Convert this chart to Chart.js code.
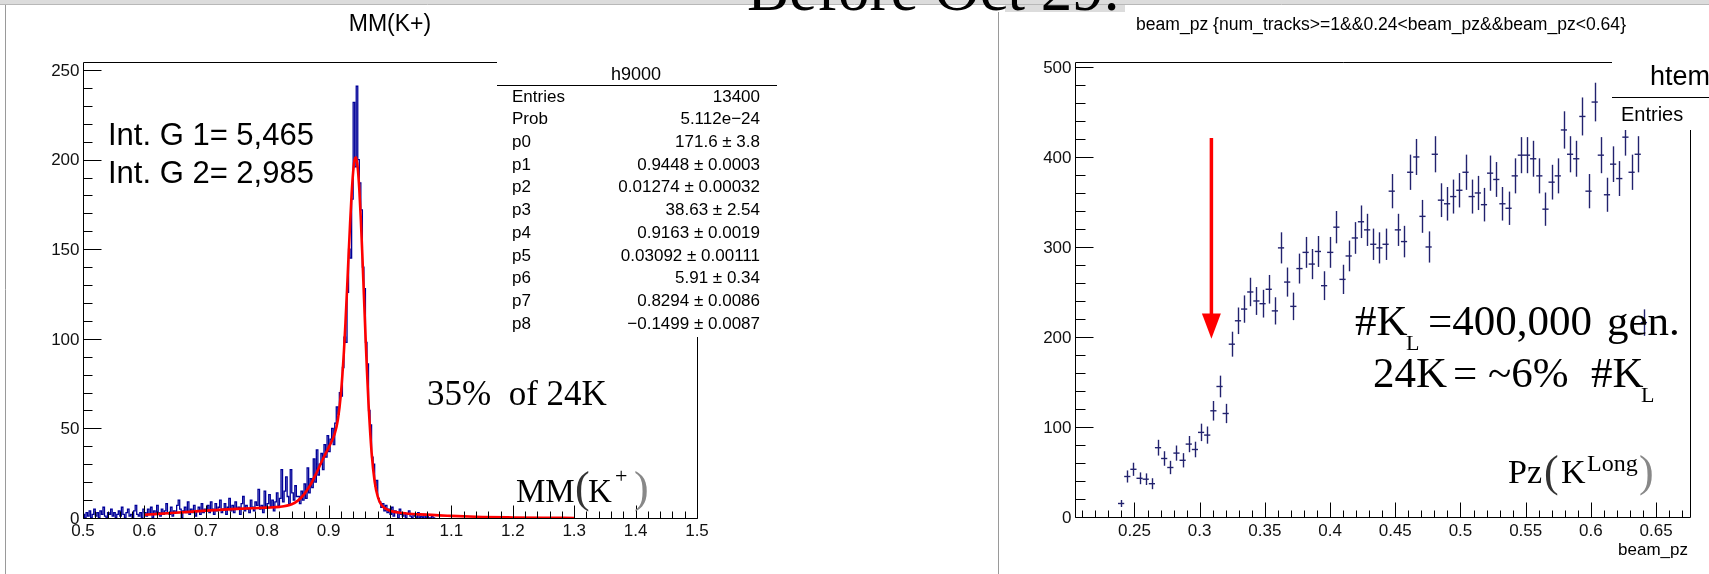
<!DOCTYPE html>
<html>
<head>
<meta charset="utf-8">
<title>MM(K+) / beam_pz</title>
<script src="https://cdn.jsdelivr.net/npm/chart.js@4.4.0/dist/chart.umd.min.js"></script>
<style>
  html, body { margin: 0; padding: 0; background: #fff; }
  #page { position: relative; width: 1709px; height: 574px; overflow: hidden; }
  #page canvas { position: absolute; left: 0; top: 0; }
</style>
</head>
<body>
<div id="page">
  <canvas id="mmChart" width="1709" height="574"></canvas>
  <canvas id="pzChart" width="1709" height="574"></canvas>
</div>
<script>
// ---- left panel: MM(K+) histogram, bins of 0.0025 from 0.5
var mmLow = 0.5;
var mmBinWidth = 0.0025;
var mmCounts = [
  2,0,3,1,4,0,2,5,1,3, 0,4,2,6,1,0,3,2,5,1, 3,0,2,4,1,6,2,0,3,5, 1,2,0,4,7,2,1,3,0,5,
  3,1,5,2,6,0,4,2,7,3, 1,5,2,4,8,3,2,6,1,4, 3,7,10,5,0,4,6,3,9,2, 5,3,7,1,4,6,2,8,3,5,
  4,7,3,9,5,2,8,4,6,10, 3,5,8,2,6,11,4,7,3,9, 5,6,2,8,12,4,7,5,3,10, 6,4,9,7,16,5,7,3,15,6,
  8,13,6,10,4,9,14,7,11,27, 9,15,23,12,8,27,14,10,18,12,
  12,8,15,10,19,11,28,14,22,17, 33,20,38,24,30,36,27,41,34,46,
  37,44,50,41,53,62,58,70,68,84, 101,98,126,150,145,178,232,196,241,200,
  187,172,140,128,98,86,60,52,34,30, 18,21,11,9,6,8,4,7,3,5,
  2,6,1,4,3,0,5,2,1,3, 0,2,4,1,0,2,1,0,3,0, 1,0,2,0,1,0,0,1,0,0
];

// red fit curve
var fitMass = [0.60,0.65,0.70,0.75,0.80,0.82,0.84,0.85,0.86,0.87,0.88,0.89,0.90,0.91,0.915,
  0.92,0.925,0.9275,0.93,0.9325,0.935,0.9375,0.94,0.9425,0.9448,0.9475,0.95,0.9525,0.955,0.9575,
  0.96,0.9625,0.965,0.97,0.975,0.98,0.985,0.99,1.00,1.02,1.05,1.10,1.15,1.20,1.25,1.30];
var fitCounts = [1.8,2.9,4.1,5.1,5.8,6.2,7.7,9.7,13.2,18.3,25.0,32.4,39.3,47.1,54.7,
  69.1,93.2,109.2,127.1,146.1,164.4,180.7,193.2,200.2,201.3,195.3,183.5,166.6,146.4,124.4,
  102.5,82.0,63.9,36.6,20.4,12.0,7.9,5.9,4.1,2.8,2.0,1.2,0.6,0.3,0.1,0.04];

var mmStatNames = ["Entries","Prob","p0","p1","p2","p3","p4","p5","p6","p7","p8"];
var mmStatValues = ["13400","5.112e\u221224","171.6 \u00b1 3.8","0.9448 \u00b1 0.0003",
  "0.01274 \u00b1 0.00032","38.63 \u00b1 2.54","0.9163 \u00b1 0.0019","0.03092 \u00b1 0.00111",
  "5.91 \u00b1 0.34","0.8294 \u00b1 0.0086","\u22120.1499 \u00b1 0.0087"];

var mmXTicks = [0.5,0.6,0.7,0.8,0.9,1.0,1.1,1.2,1.3,1.4,1.5];
var mmXLabels = ["0.5","0.6","0.7","0.8","0.9","1","1.1","1.2","1.3","1.4","1.5"];
var mmYTicks = [0,50,100,150,200,250];
var mmYLabels = ["0","50","100","150","200","250"];

// ---- right panel: beam_pz, 100 bins from 0.2044, filled bins start at bin 7
var pzLow = 0.2044;
var pzBinWidth = 0.004716;
var pzFirstBin = 7;
var pzCounts = [
  15,45,53,43,42,37,77,65,55,71, 63,81,75,94,91,118,145,115,192,218,
  231,250,240,237,253,229,299,261,234,276, 294,281,295,257,294,322,264,290,310,328,
  319,303,299,303,362,319,306,383,400,334, 300,403,352,348,356,363,383,356,360,347,
  382,375,348,343,379,402,402,398,379,342, 372,379,430,403,398,445,362,461,402,358,
  392,376,422,383,403,216
];

var pzXTicks = [0.25,0.3,0.35,0.4,0.45,0.5,0.55,0.6,0.65];
var pzXLabels = ["0.25","0.3","0.35","0.4","0.45","0.5","0.55","0.6","0.65"];
var pzYTicks = [0,100,200,300,400,500];
var pzYLabels = ["0","100","200","300","400","500"];

// red arrow on the right panel (data coordinates)
var pzArrow = { x: 0.309, top: 421, headBase: 226, tip: 198 };

var SANS = '"Liberation Sans", Arial, sans-serif';
var SERIF = '"Liberation Serif", "Times New Roman", serif';

function line(ctx, x1, y1, x2, y2) {
  ctx.beginPath();
  ctx.moveTo(x1, y1);
  ctx.lineTo(x2, y2);
  ctx.stroke();
}

function text(ctx, s, x, y, font, color, align, base, maxW) {
  ctx.font = font;
  ctx.fillStyle = color || '#000';
  ctx.textAlign = align || 'left';
  ctx.textBaseline = base || 'alphabetic';
  if (maxW) ctx.fillText(s, x, y, maxW); else ctx.fillText(s, x, y);
}

// ROOT style frame with ticks pointing inside
function drawFrame(chart, spec) {
  var ctx = chart.ctx, a = chart.chartArea;
  var xs = chart.scales.x, ys = chart.scales.y;
  var L = Math.round(a.left) + 0.5, R = Math.round(a.right) + 0.5;
  var T = Math.round(a.top) + 0.5, B = Math.round(a.bottom) + 0.5;
  ctx.save();
  ctx.strokeStyle = '#000';
  ctx.lineWidth = 1;
  line(ctx, L, T, L, B);
  line(ctx, L, B, R, B);
  line(ctx, L, T, spec.topEnd, T);
  line(ctx, R, spec.rightStart, R, B);

  var k, v, px, len;
  for (k = Math.ceil(xs.min / spec.xMinor - 1e-6); k <= Math.floor(xs.max / spec.xMinor + 1e-6); k++) {
    px = Math.round(xs.getPixelForValue(k * spec.xMinor)) + 0.5;
    len = (k % spec.xSub === 0) ? spec.xMaj : spec.xMin;
    line(ctx, px, B, px, B - len);
  }
  for (k = Math.ceil(ys.min / spec.yMinor - 1e-6); k <= Math.floor(ys.max / spec.yMinor + 1e-6); k++) {
    px = Math.round(ys.getPixelForValue(k * spec.yMinor)) + 0.5;
    len = (k % spec.ySub === 0) ? spec.yMaj : spec.yMin;
    line(ctx, L, px, L + len, px);
  }
  var f = '17px ' + SANS;
  spec.xTicks.forEach(function (t, i) {
    text(ctx, spec.xLabels[i], xs.getPixelForValue(t), 531, f, '#111', 'center', 'middle');
  });
  spec.yTicks.forEach(function (t, i) {
    text(ctx, spec.yLabels[i], L - 4, ys.getPixelForValue(t) + 1, f, '#111', 'right', 'middle');
  });
  ctx.restore();
}

var pageDecor = {
  id: 'pageDecor',
  beforeDraw: function (chart) {
    var ctx = chart.ctx;
    ctx.save();
    ctx.fillStyle = '#fff';
    ctx.fillRect(0, 0, chart.width, chart.height);
    ctx.fillStyle = '#dcdcdc';
    ctx.fillRect(0, 0, chart.width, 4);
    ctx.fillRect(1005, 0, 120, 12);
    ctx.strokeStyle = '#b8b8b8';
    ctx.lineWidth = 1;
    line(ctx, 0, 4.5, 1709, 4.5);
    ctx.strokeStyle = '#9a9a9a';
    line(ctx, 5.5, 5, 5.5, 574);
    line(ctx, 998.5, 12, 998.5, 574);
    // slide heading, cut off by the top edge
    text(ctx, 'Before Oct 29.', 747, 10, '63px ' + SERIF, '#000');
    ctx.restore();
  }
};

var mmDecor = {
  id: 'mmDecor',
  afterDraw: function (chart) {
    var ctx = chart.ctx;
    drawFrame(chart, {
      topEnd: 497, rightStart: 337,
      xMinor: 0.02, xSub: 5, xMaj: 13, xMin: 7,
      yMinor: 10, ySub: 5, yMaj: 18, yMin: 9,
      xTicks: mmXTicks, xLabels: mmXLabels, yTicks: mmYTicks, yLabels: mmYLabels
    });
    ctx.save();
    text(ctx, 'MM(K+)', 390, 25, '23px ' + SANS, '#000', 'center', 'middle');

    // stats box
    ctx.fillStyle = '#fff';
    ctx.fillRect(497, 56, 280, 281);
    ctx.strokeStyle = '#000';
    ctx.lineWidth = 1;
    line(ctx, 497, 85.5, 777, 85.5);
    text(ctx, 'h9000', 636, 75, '18px ' + SANS, '#000', 'center', 'middle');
    mmStatNames.forEach(function (n, i) {
      var y = 97 + i * 22.7;
      text(ctx, n, 512, y, '17px ' + SANS, '#000', 'left', 'middle');
      text(ctx, mmStatValues[i], 760, y, '17px ' + SANS, '#000', 'right', 'middle');
    });

    // annotations pasted on the slide
    text(ctx, 'Int. G 1= 5,465', 108, 145, '31px ' + SANS, '#000');
    text(ctx, 'Int. G 2= 2,985', 108, 183, '31px ' + SANS, '#000');
    text(ctx, '35%  of 24K', 427, 405, '35px ' + SERIF, '#000');
    text(ctx, 'MM', 516, 502, '33px ' + SERIF, '#000');
    text(ctx, '(', 575, 502, '44px ' + SERIF, '#333');
    text(ctx, 'K', 588, 502, '33px ' + SERIF, '#000');
    text(ctx, '+', 615, 483, '22px ' + SERIF, '#000');
    text(ctx, ')', 634, 502, '44px ' + SERIF, '#888');
    ctx.restore();
  }
};

var pzErrors = {
  id: 'pzErrors',
  afterDatasetsDraw: function (chart) {
    var ctx = chart.ctx, ys = chart.scales.y;
    var meta = chart.getDatasetMeta(0);
    ctx.save();
    ctx.strokeStyle = '#22226e';
    ctx.lineWidth = 1.4;
    meta.data.forEach(function (pt, i) {
      var v = pzCounts[i], e = Math.sqrt(v);
      var x = Math.round(pt.x) + 0.5;
      line(ctx, x, ys.getPixelForValue(v + e), x, ys.getPixelForValue(v - e));
    });
    ctx.restore();
  }
};

var pzDecor = {
  id: 'pzDecor',
  afterDraw: function (chart) {
    var ctx = chart.ctx, xs = chart.scales.x, ys = chart.scales.y;
    drawFrame(chart, {
      topEnd: 1612, rightStart: 130,
      xMinor: 0.01, xSub: 5, xMaj: 15, xMin: 7,
      yMinor: 20, ySub: 5, yMaj: 18, yMin: 10,
      xTicks: pzXTicks, xLabels: pzXLabels, yTicks: pzYTicks, yLabels: pzYLabels
    });
    ctx.save();
    text(ctx, 'beam_pz {num_tracks>=1&&0.24<beam_pz&&beam_pz<0.64}', 1381, 25,
      '18px ' + SANS, '#000', 'center', 'middle', 490);
    text(ctx, 'beam_pz', 1688, 550, '17px ' + SANS, '#000', 'right', 'middle');

    // stats box, cut by the image edge
    ctx.fillStyle = '#fff';
    ctx.fillRect(1612, 56, 100, 74);
    ctx.strokeStyle = '#000';
    ctx.lineWidth = 1;
    line(ctx, 1612, 97.5, 1709, 97.5);
    text(ctx, 'htemp', 1650, 78, '27px ' + SANS, '#000', 'left', 'middle');
    text(ctx, 'Entries', 1621, 115, '20px ' + SANS, '#000', 'left', 'middle');

    // red arrow
    var ax = xs.getPixelForValue(pzArrow.x);
    ctx.strokeStyle = '#ff0000';
    ctx.fillStyle = '#ff0000';
    ctx.lineWidth = 3.5;
    line(ctx, ax, ys.getPixelForValue(pzArrow.top), ax, ys.getPixelForValue(pzArrow.headBase) + 2);
    ctx.beginPath();
    ctx.moveTo(ax - 9.5, ys.getPixelForValue(pzArrow.headBase));
    ctx.lineTo(ax + 9.5, ys.getPixelForValue(pzArrow.headBase));
    ctx.lineTo(ax, ys.getPixelForValue(pzArrow.tip));
    ctx.closePath();
    ctx.fill();

    // annotations
    var big = '43px ' + SERIF, sub = '22px ' + SERIF;
    text(ctx, '#K', 1355, 335, big);
    text(ctx, 'L', 1406, 350, sub);
    text(ctx, '=400,000', 1428, 335, big);
    text(ctx, 'gen.', 1607, 335, big);
    text(ctx, '24K', 1373, 387, big);
    text(ctx, '=', 1453, 387, big);
    text(ctx, '~6%', 1488, 387, big);
    text(ctx, '#K', 1591, 387, big);
    text(ctx, 'L', 1641, 402, sub);
    text(ctx, 'Pz', 1508, 483, '34px ' + SERIF);
    text(ctx, '(', 1544, 486, '44px ' + SERIF, '#333');
    text(ctx, 'K', 1561, 483, '34px ' + SERIF);
    text(ctx, 'Long', 1587, 471, '24px ' + SERIF);
    text(ctx, ')', 1639, 486, '44px ' + SERIF, '#888');
    ctx.restore();
  }
};

var mmPoints = mmCounts.map(function (c, i) {
  return { x: mmLow + (i + 0.5) * mmBinWidth, y: c };
});
var fitPoints = fitMass.map(function (m, i) {
  return { x: m, y: fitCounts[i] };
});
var pzPoints = pzCounts.map(function (c, i) {
  return { x: pzLow + (pzFirstBin + i + 0.5) * pzBinWidth, y: c };
});

new Chart(document.getElementById('mmChart'), {
  type: 'line',
  data: {
    datasets: [
      { data: mmPoints, order: 2, borderColor: '#000099', borderWidth: 1.3, stepped: 'middle',
        pointRadius: 0, fill: false },
      { data: fitPoints, order: 1, borderColor: '#ff0000', borderWidth: 2.6, pointRadius: 0,
        cubicInterpolationMode: 'monotone', fill: false }
    ]
  },
  options: {
    responsive: false, animation: false, devicePixelRatio: 1, events: [],
    layout: { padding: { left: 83, right: 1709 - 697, top: 62, bottom: 574 - 518 } },
    plugins: { legend: { display: false }, tooltip: { enabled: false } },
    scales: {
      x: { type: 'linear', min: 0.5, max: 1.5, display: false },
      y: { type: 'linear', min: 0, max: 254.5, display: false }
    }
  },
  plugins: [pageDecor, mmDecor]
});

new Chart(document.getElementById('pzChart'), {
  type: 'scatter',
  data: {
    datasets: [
      { data: pzPoints, pointStyle: 'line', pointRadius: 3.1, pointBorderWidth: 1.4,
        pointBorderColor: '#22226e', pointBackgroundColor: '#22226e', showLine: false }
    ]
  },
  options: {
    responsive: false, animation: false, devicePixelRatio: 1, events: [],
    layout: { padding: { left: 1075, right: 1709 - 1690, top: 62, bottom: 574 - 517 } },
    plugins: { legend: { display: false }, tooltip: { enabled: false } },
    scales: {
      x: { type: 'linear', min: 0.2044, max: 0.676, display: false },
      y: { type: 'linear', min: 0, max: 505.5, display: false }
    }
  },
  plugins: [pzErrors, pzDecor]
});
</script>
</body>
</html>
